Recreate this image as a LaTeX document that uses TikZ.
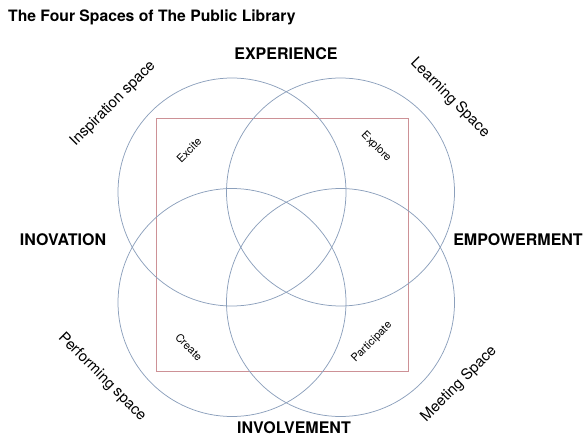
\documentclass[tikz,border=0pt]{standalone}
\usepackage{fontspec}
\setmainfont{TeX Gyre Heros}
\usepackage{tikz}
\usetikzlibrary{positioning}
\definecolor{ringblue}{RGB}{140,160,188}
\definecolor{boxred} {RGB}{205,145,150}

\begin{document}
\begin{tikzpicture}[x=1pt,y=-1pt,every node/.style={inner sep=0pt},
    ring/.style={draw=ringblue,circle,minimum size=228pt,line width=0.75pt},
    big/.style={font=\bfseries\fontsize{16}{18}\selectfont},
    space/.style={font=\fontsize{15}{17}\selectfont},
    word/.style={font=\fontsize{11}{13}\selectfont}]

    \useasboundingbox (0,0) rectangle (585,443);

    \node[font=\bfseries\fontsize{15.7}{18}\selectfont,anchor=west] (title) at (8,17) {The Four Spaces of The Public Library};

    \node[draw=boxred,line width=0.8pt,minimum width=252pt,minimum height=253pt] (box) at (282,244.5) {};

    \node[ring] (inspire) at (232,192) {};
    \node[ring] (learn)   at (340.5,192) {};
    \node[ring] (perform) at (232,302.5) {};
    \node[ring] (meet)    at (340.5,302.5) {};

    \node[big] (exp) at (286,54)  {EXPERIENCE};
    \node[big] (ino) at (63,240)  {INOVATION};
    \node[big] (emp) at (518,240) {EMPOWERMENT};
    \node[big] (inv) at (294,428) {INVOLVEMENT};

    \node[space,rotate=45]  (inspirelabel) at (113,104) {Inspiration space};
    \node[space,rotate=-45] (learnlabel)   at (450,98)  {Learning Space};
    \node[space,rotate=-45] (performlabel) at (102,377) {Performing space};
    \node[space,rotate=45]  (meetlabel)    at (459,384) {Meeting Space};

    \node[word,rotate=45]  (excite)  at (189,150) {Excite};
    \node[word,rotate=-45] (explore) at (376,147) {Explore};
    \node[word,rotate=-45] (create)  at (189,347) {Create};
    \node[word,rotate=45]  (partic)  at (372,342) {Participate};

\end{tikzpicture}
\end{document}
